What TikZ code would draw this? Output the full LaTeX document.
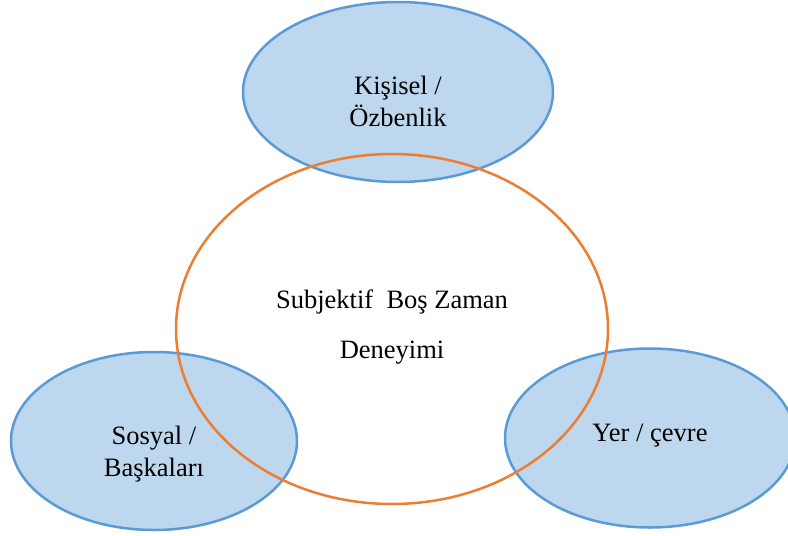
\documentclass[tikz,border=0pt]{standalone}
\usepackage{fontspec}
\setmainfont{Liberation Serif}
\usetikzlibrary{shapes.geometric}
\definecolor{aspectfill}{HTML}{BDD7EE}
\definecolor{aspectline}{HTML}{5B9BD5}
\definecolor{coreline}{HTML}{ED7D31}
\begin{document}
\begin{tikzpicture}[x=1pt,y=-1pt,
    aspect/.style={ellipse,draw=aspectline,fill=aspectfill,line width=2.5pt},
    core/.style={ellipse,draw=coreline,line width=2.5pt},
    label/.style={align=center,font=\fontsize{26.5}{32}\selectfont}]
  \useasboundingbox (0,0) rectangle (788,536);
  \draw
    (398,92) node[aspect,minimum width=310pt,minimum height=180pt] (ozbenlik){}
    (154,441) node[aspect,minimum width=286pt,minimum height=178pt] (baskalari){}
    (650,438) node[aspect,minimum width=290pt,minimum height=179pt] (cevre){};
  \draw
    (392,329) node[core,minimum width=432pt,minimum height=350pt] (deneyim){};
  \draw
    (398,101) node[label] (t-ozbenlik){Kişisel /\\Özbenlik}
    (154,454) node[label] (t-baskalari){Sosyal /\\Başkaları}
    (650,436) node[label] (t-cevre){Yer / çevre}
    (392,327) node[label] (t-deneyim){Subjektif\ \ Boş Zaman\\[18pt]Deneyimi};
\end{tikzpicture}
\end{document}
